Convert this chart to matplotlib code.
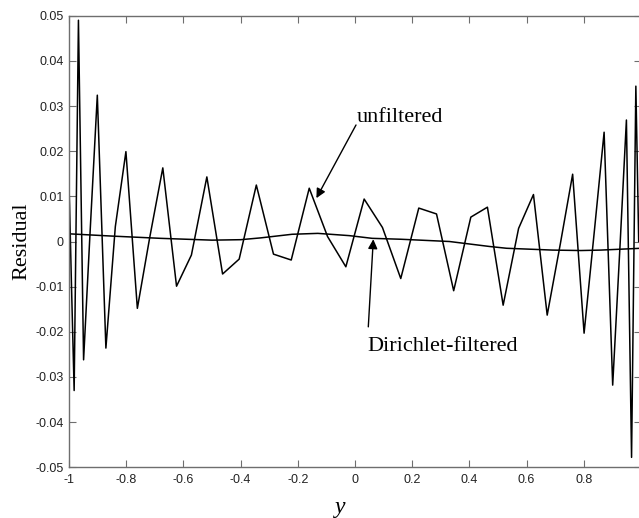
import matplotlib
matplotlib.use("Agg")
import matplotlib.pyplot as plt

# Unfiltered residual (left to right)
x_unf = [-1.0, -0.998, -0.992, -0.982, -0.967, -0.949, -0.927, -0.901, -0.871, -0.838,
         -0.801, -0.761, -0.718, -0.672, -0.624, -0.572, -0.518, -0.463, -0.405, -0.345,
         -0.285, -0.223, -0.160, -0.096, -0.032, 0.032, 0.096, 0.160, 0.223, 0.285,
         0.345, 0.405, 0.463, 0.518, 0.572, 0.624, 0.672, 0.718, 0.761, 0.801,
         0.838, 0.871, 0.901, 0.927, 0.949, 0.967, 0.982, 0.992]
y_unf = [0.012, 0.008, -0.008, -0.033, 0.049, -0.0262, 0.0012, 0.0324, -0.0236, 0.0033,
         0.0199, -0.0148, 0.0008, 0.0163, -0.0099, -0.0030, 0.0143, -0.0072, -0.0039, 0.0125,
         -0.0028, -0.0041, 0.0118, 0.0011, -0.0056, 0.0094, 0.0031, -0.0082, 0.0074, 0.0061,
         -0.0109, 0.0054, 0.0076, -0.0141, 0.0029, 0.0104, -0.0163, -0.0005, 0.0149, -0.0203,
         0.0030, 0.0242, -0.0318, -0.0005, 0.0269, -0.0478, 0.0344, 0.0]

# Dirichlet-filtered residual
x_fil = [-1.0, -0.85, -0.68, -0.5, -0.4, -0.33, -0.22, -0.13, -0.02, 0.06,
         0.16, 0.33, 0.47, 0.53, 0.69, 0.79, 0.86, 1.0]
y_fil = [0.0017, 0.0012, 0.0007, 0.0003, 0.0004, 0.0008, 0.0016, 0.0018, 0.0013, 0.0007,
         0.0005, 0.0, -0.0011, -0.0015, -0.0019, -0.0020, -0.0019, -0.0015]

xticks = [-1, -0.8, -0.6, -0.4, -0.2, 0, 0.2, 0.4, 0.6, 0.8]
xtick_labels = ["-1", "-0.8", "-0.6", "-0.4", "-0.2", "0", "0.2", "0.4", "0.6", "0.8"]
yticks = [-0.05, -0.04, -0.03, -0.02, -0.01, 0, 0.01, 0.02, 0.03, 0.04, 0.05]
ytick_labels = ["-0.05", "-0.04", "-0.03", "-0.02", "-0.01", "0",
                "0.01", "0.02", "0.03", "0.04", "0.05"]

W, H = 639, 518
fig = plt.figure(figsize=(W / 100, H / 100), dpi=100)
ax = fig.add_axes([69 / W, (H - 467.3) / H, (641 - 69) / W, (467.3 - 15.7) / H])

ax.plot(x_unf, y_unf, color="black", lw=1.1)
ax.plot(x_fil, y_fil, color="black", lw=1.1)

ax.set_xlim(-1, 1)
ax.set_ylim(-0.05, 0.05)
ax.set_xticks(xticks)
ax.set_xticklabels(xtick_labels)
ax.set_yticks(yticks)
ax.set_yticklabels(ytick_labels)

spine_col = "#6e6e6e"
for s in ax.spines.values():
    s.set_color(spine_col)
    s.set_linewidth(1.0)
ax.tick_params(direction="in", length=5, width=0.8, color=spine_col,
               top=True, right=True, labelsize=9, pad=5)
ax.tick_params(axis="y", pad=4)
for lab in ax.get_xticklabels() + ax.get_yticklabels():
    lab.set_family("Liberation Sans")
    lab.set_color("#222222")

serif = "Liberation Serif"
ax.text(0.007, 0.0265, "unfiltered", family=serif, fontsize=16, ha="left", va="baseline")
ax.annotate("", xy=(-0.135, 0.0096), xytext=(0.0035, 0.0258),
            arrowprops=dict(arrowstyle="-|>", color="black", lw=1.0,
                            mutation_scale=14, shrinkA=0, shrinkB=0))
ax.text(0.045, -0.0242, "Dirichlet-filtered", family=serif, fontsize=16,
        ha="left", va="baseline")
ax.annotate("", xy=(0.064, 0.0005), xytext=(0.0465, -0.0189),
            arrowprops=dict(arrowstyle="-|>", color="black", lw=1.0,
                            mutation_scale=14, shrinkA=0, shrinkB=0))

fig.text(22 / W, 1 - 241 / H, "Residual", family=serif, fontsize=16,
         rotation=90, ha="center", va="center")
fig.text(340 / W, 1 - 507 / H, "y", family=serif, style="italic", fontsize=17,
         ha="center", va="center")

fig.savefig("out.png", dpi=100)
